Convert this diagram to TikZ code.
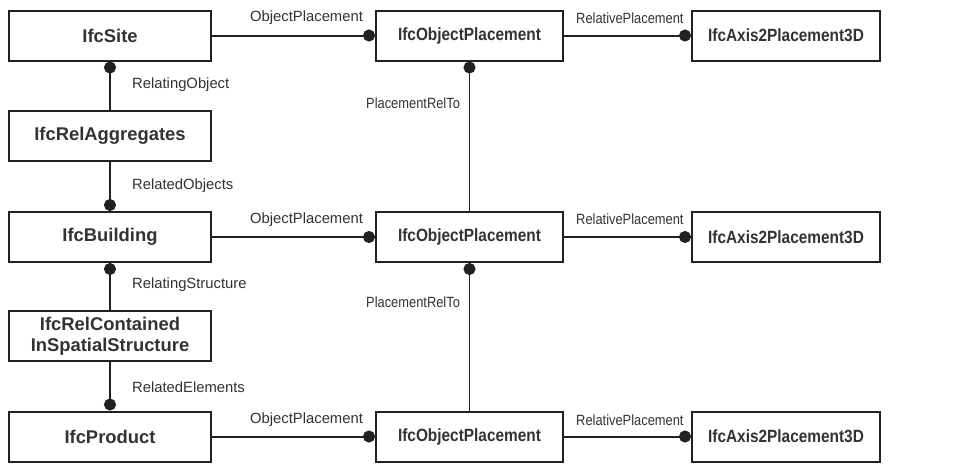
\documentclass[tikz,border=0pt]{standalone}
\usepackage{fontspec}
\setmainfont{Liberation Sans}
\newfontfamily\cond[FakeStretch=0.87]{Liberation Sans}
\usetikzlibrary{arrows.meta}
\definecolor{linec}{gray}{0.13}
\definecolor{textc}{gray}{0.2}
\begin{document}
\begin{tikzpicture}[x=1pt,y=-1pt,
  box/.style={draw=linec, line width=2pt, fill=white, minimum width=202pt, minimum height=50pt,
    inner sep=0pt, text=textc, align=center, font=\fontsize{18.4}{21}\selectfont\bfseries},
  rbox/.style={box, minimum width=187pt, font=\cond\fontsize{17.7}{21}\selectfont\bfseries},
  lab/.style={anchor=west, inner sep=0pt, text=textc, font=\fontsize{14.8}{17}\selectfont},
  rlab/.style={lab, font=\cond\fontsize{14.8}{17}\selectfont},
  conn/.style={draw=linec, line width=2pt},
  dotend/.style={-{Circle[length=12pt,width=12pt]}},
  dotstart/.style={{Circle[length=12pt,width=12pt]}-}
]
\useasboundingbox[fill=white] (0,0) rectangle (969,466);

% left column
\node[box] (site) at (110,35.5) {IfcSite};
\node[box] (agg) at (110,136) {IfcRelAggregates};
\node[box] (bld) at (110,237) {IfcBuilding};
\node[box] (cont) at (110,336) {IfcRelContained\\InSpatialStructure};
\node[box] (prod) at (110,436.5) {IfcProduct};

% middle column
\node[rbox] (op1) at (469.5,35.5) {IfcObjectPlacement};
\node[rbox] (op2) at (469.5,237) {IfcObjectPlacement};
\node[rbox] (op3) at (469.5,436.5) {IfcObjectPlacement};

% right column
\node[rbox, minimum width=188pt] (ax1) at (786,35.5) {IfcAxis2Placement3D};
\node[rbox, minimum width=188pt] (ax2) at (786,237) {IfcAxis2Placement3D};
\node[rbox, minimum width=188pt] (ax3) at (786,436.5) {IfcAxis2Placement3D};

% vertical connectors left
\draw[conn, dotstart] (site) -- (agg);
\draw[conn, dotend] (agg) -- (bld);
\draw[conn, dotstart] (bld) -- (cont);
\draw[conn, dotend] (cont) -- (prod);

% vertical connectors middle
\draw[conn, line width=1.6pt, dotstart] (op1) -- (op2);
\draw[conn, line width=1.6pt, dotstart] (op2) -- (op3);

% horizontal connectors
\draw[conn, dotend] (site) -- (op1);
\draw[conn, dotend] (bld) -- (op2);
\draw[conn, dotend] (prod) -- (op3);
\draw[conn, dotend] (op1) -- (ax1);
\draw[conn, dotend] (op2) -- (ax2);
\draw[conn, dotend] (op3) -- (ax3);

% labels
\node[lab] (l1) at (250,18) {ObjectPlacement};
\node[lab] (l2) at (250,219.5) {ObjectPlacement};
\node[lab] (l3) at (250,420) {ObjectPlacement};
\node[rlab] (r1) at (576,18) {RelativePlacement};
\node[rlab] (r2) at (576,219.5) {RelativePlacement};
\node[rlab] (r3) at (576,420) {RelativePlacement};
\node[lab] (v1) at (132,85) {RelatingObject};
\node[lab] (v2) at (132,186) {RelatedObjects};
\node[lab] (v3) at (132,285) {RelatingStructure};
\node[lab] (v4) at (132,387) {RelatedElements};
\node[rlab] (p1) at (366,103) {PlacementRelTo};
\node[rlab] (p2) at (366,302) {PlacementRelTo};
\end{tikzpicture}
\end{document}
